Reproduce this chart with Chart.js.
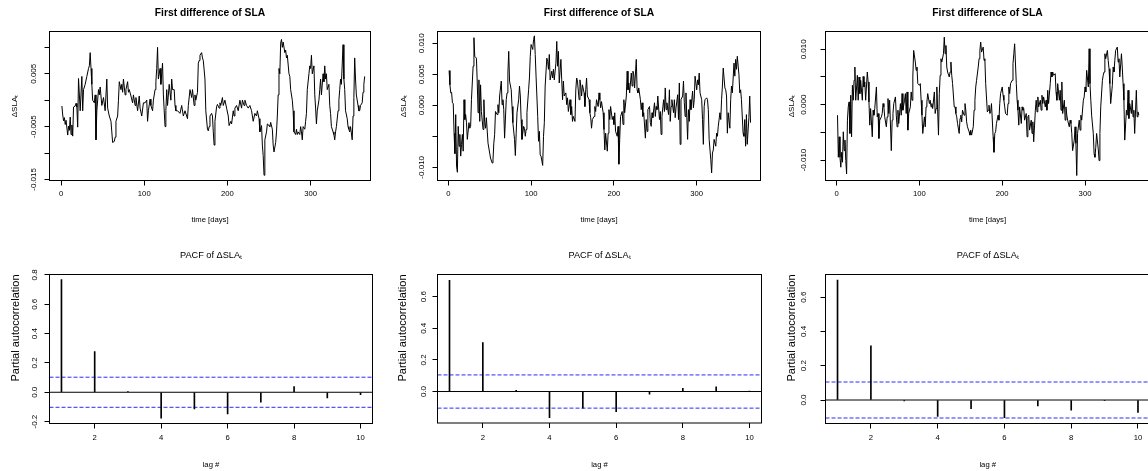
<!DOCTYPE html>
<html><head><meta charset="utf-8"><title>First difference of SLA and PACF</title>
<script src="https://cdn.jsdelivr.net/npm/chart.js@4.4.1/dist/chart.umd.min.js"></script>
<style>
html,body{margin:0;padding:0;background:#fff;overflow:hidden;width:1148px;height:471px;position:relative;}
canvas{position:absolute;display:block;}
</style></head><body>
<canvas id="c1"></canvas><canvas id="c2"></canvas><canvas id="c3"></canvas>
<canvas id="c4"></canvas><canvas id="c5"></canvas><canvas id="c6"></canvas>
<script>
// ---------------- DATA ----------------
const dayTicks = [0, 100, 200, 300];
const lagTicks = [2, 4, 6, 8, 10];
const lags = [1, 2, 3, 4, 5, 6, 7, 8, 9, 10];

const days1 = [
 1,2,3,4,5,6,8,9,10,11,
 12,13,14,15,17,18,19,20,21,23,
 25,26,27,29,31,33,34,35,36,37,
 38,40,41,42,43,45,46,47,49,51,
 53,55,56,58,60,61,62,64,65,66,
 68,69,70,72,73,74,75,77,78,80,
 81,82,84,86,87,89,90,92,94,95,
 97,99,101,103,104,105,107,108,110,111,
 113,114,115,116,117,119,120,121,122,123,
 125,126,127,128,130,132,133,134,136,137,
 138,140,143,145,147,149,151,152,153,155,
 157,158,160,161,162,164,165,166,167,169,
 170,171,173,174,176,177,178,179,181,182,
 183,184,185,187,188,190,191,192,194,195,
 197,199,201,202,204,205,207,208,209,211,
 213,215,217,218,220,221,223,225,227,229,
 231,233,235,236,238,239,241,242,243,244,
 245,247,248,250,251,252,254,255,256,258,
 259,260,261,262,263,264,265,266,267,269,
 270,271,272,274,275,276,278,279,280,282,
 283,284,285,287,288,289,290,291,293,294,
 295,296,298,299,300,301,302,304,305,306,
 307,308,310,311,312,313,315,316,317,318,
 319,320,322,323,324,325,327,328,329,330,
 331,333,334,335,336,337,339,340,341,342,
 344,345,346,347,348,350,351,352,353,354,
 355,357,358,359,360,362,363,364,365];
const sla1 = [
 -1.1e-3,-2.8e-3,-3.9e-3,-3.3e-3,-4.6e-3,-3.8e-3,-6.6e-3,-4.9e-3,-5.7e-3,-3.2e-3,
 -6.5e-3,-4.7e-3,-6.8e-3,-1.3e-3,-1.1e-3,-0.6e-3,-1.3e-3,-5.1e-3,4.1e-3,-2.0e-3,
 4.5e-3,-2.0e-3,2.0e-3,3.0e-3,4.5e-3,6.0e-3,6.5e-3,9.0e-3,6.0e-3,3.0e-3,
 0,-0.5e-3,1.0e-3,-7.5e-3,-2.0e-3,2.0e-3,1.0e-3,2.5e-3,-1.0e-3,0.5e-3,
 -2.0e-3,4.0e-3,-1.5e-3,-3.0e-3,-4.0e-3,-6.0e-3,-8.0e-3,-7.8e-3,-7.0e-3,-4.0e-3,
 -3.0e-3,0,3.5e-3,2.0e-3,3.0e-3,1.5e-3,4.0e-3,1.0e-3,2.0e-3,3.5e-3,
 1.5e-3,2.0e-3,0.8e-3,-0.5e-3,1.0e-3,-1.0e-3,0.5e-3,-2.0e-3,0.8e-3,-1.5e-3,
 -3.0e-3,-0.5e-3,-0.5e-3,0,-4.0e-3,-2.0e-3,0.2e-3,-1.0e-3,-2.0e-3,0,
 2.0e-3,3.5e-3,6.0e-3,10.0e-3,4.0e-3,6.0e-3,3.0e-3,5.0e-3,7.0e-3,1.0e-3,
 -5.0e-3,-2.0e-3,2.0e-3,-1.0e-3,3.0e-3,0,4.0e-3,2.0e-3,2.0e-3,-1.0e-3,
 -2.0e-3,-2.0e-3,-2.5e-3,-1.0e-3,-3.0e-3,-2.0e-3,-3.0e-3,-3.5e-3,-1.0e-3,2.0e-3,
 0.5e-3,2.0e-3,-1.0e-3,1.0e-3,0,1.5e-3,7.0e-3,7.5e-3,8.5e-3,9.0e-3,
 8.0e-3,7.5e-3,4.0e-3,-2.0e-3,-5.5e-3,-5.8e-3,-5.0e-3,-3.0e-3,-2.5e-3,-3.0e-3,
 -6.0e-3,-8.5e-3,-4.0e-3,-1.2e-3,-0.8e-3,-1.5e-3,-0.5e-3,-1.0e-3,0.5e-3,-1.0e-3,
 0,-1.5e-3,-3.0e-3,-4.8e-3,-4.0e-3,-4.5e-3,-2.0e-3,-3.0e-3,-1.5e-3,-1.0e-3,
 -2.0e-3,0,-1.5e-3,0,-1.0e-3,0,-1.0e-3,-1.5e-3,-1.0e-3,-2.0e-3,
 -4.0e-3,-2.5e-3,-3.0e-3,-2.0e-3,-3.5e-3,-6.0e-3,-4.8e-3,-8.5e-3,-10.5e-3,-14.2e-3,
 -7.5e-3,-6.0e-3,-4.5e-3,-4.8e-3,-5.0e-3,-4.2e-3,-5.5e-3,-8.5e-3,-9.8e-3,-8.0e-3,
 -6.0e-3,-3.0e-3,1.0e-3,6.0e-3,5.0e-3,10.8e-3,11.5e-3,10.0e-3,11.0e-3,9.0e-3,
 9.5e-3,8.0e-3,8.5e-3,5.0e-3,4.5e-3,2.0e-3,0,-2.0e-3,-6.0e-3,-6.5e-3,
 -5.5e-3,-6.5e-3,-6.0e-3,-6.5e-3,-5.0e-3,-6.0e-3,-7.5e-3,-5.0e-3,-5.5e-3,-4.0e-3,
 -2.5e-3,2.0e-3,5.0e-3,6.5e-3,6.0e-3,8.5e-3,5.0e-3,6.5e-3,1.0e-3,-1.5e-3,
 -4.5e-3,-2.0e-3,0,2.0e-3,4.0e-3,1.0e-3,5.0e-3,3.5e-3,6.5e-3,4.0e-3,
 5.0e-3,2.0e-3,3.0e-3,-1.0e-3,-2.5e-3,-5.0e-3,-6.0e-3,-6.5e-3,-7.5e-3,-6.0e-3,
 -5.0e-3,-2.0e-3,0,2.0e-3,4.0e-3,3.0e-3,10.5e-3,4.0e-3,2.0e-3,-2.0e-3,
 -3.5e-3,-5.0e-3,-5.5e-3,-6.0e-3,-5.0e-3,-7.5e-3,-3.0e-3,0.5e-3,8.0e-3,4.0e-3,
 1.0e-3,-1.0e-3,-2.0e-3,-2.0e-3,-1.0e-3,-0.5e-3,1.5e-3,3.0e-3,4.5e-3];

const days2 = [
 1,2,3,4,5,6,7,8,9,10,
 11,12,13,14,15,16,17,18,19,20,
 21,22,23,25,26,27,28,30,31,32,
 34,35,36,37,38,39,40,42,43,44,
 45,46,48,50,51,53,54,55,56,57,
 59,60,61,62,64,65,66,67,68,70,
 71,72,73,74,76,77,78,80,81,82,
 83,85,86,87,88,89,91,92,93,94,
 95,97,98,99,100,102,103,104,105,106,
 108,109,110,111,112,114,115,116,117,119,
 120,121,122,123,125,126,127,128,130,131,
 132,133,134,136,137,138,139,140,142,143,
 144,145,147,148,149,150,151,153,154,155,
 156,158,159,160,161,162,164,165,166,167,
 168,170,171,172,173,174,176,177,178,179,
 181,182,183,184,185,187,188,189,190,192,
 193,194,195,196,198,199,200,201,202,204,
 205,206,207,208,210,211,212,213,215,216,
 217,218,219,221,222,223,224,225,227,228,
 229,230,232,233,234,235,236,238,239,240,
 241,243,244,245,246,247,249,250,251,252,
 253,255,256,257,258,260,261,262,263,264,
 266,267,268,269,270,272,273,274,275,277,
 278,279,280,281,283,284,285,286,287,289,
 290,291,292,293,295,296,297,298,300,301,
 302,303,304,306,307,308,309,310,312,313,
 314,315,317,318,319,320,321,323,324,325,
 326,328,329,330,331,332,334,335,336,337,
 338,340,341,342,343,345,346,347,348,349,
 351,352,353,354,356,357,358,359,360,361,
 363,364,365];
const sla2 = [
 5.6e-3,3.3e-3,2.0e-3,2.1e-3,0.4e-3,0.3e-3,-4.5e-3,-7.8e-3,-1.5e-3,-9.8e-3,
 -10.8e-3,-3.4e-3,-6.6e-3,-4.7e-3,-8.2e-3,-6.3e-3,-4.7e-3,-7.4e-3,0.9e-3,-2.3e-3,
 -1.5e-3,-2.8e-3,-5.5e-3,-2.8e-3,-3.7e-3,-3.4e-3,0.9e-3,6.3e-3,10.9e-3,7.9e-3,
 7.6e-3,3.6e-3,-1.2e-3,4.1e-3,-2.6e-3,3.3e-3,-1.0e-3,-3.9e-3,0.9e-3,-2.8e-3,
 -3.7e-3,-2.0e-3,-6.1e-3,-7.7e-3,-8.5e-3,-9.3e-3,-8.8e-3,-6.1e-3,-4.7e-3,-1.0e-3,
 -1.5e-3,0.1e-3,-1.2e-3,1.5e-3,3.9e-3,0.1e-3,0.9e-3,-0.7e-3,-5.3e-3,0.9e-3,
 2.0e-3,5.2e-3,8.7e-3,3.9e-3,2.5e-3,-0.2e-3,-2.8e-3,-5.5e-3,-8.1e-3,-4.5e-3,
 -1.2e-3,0.9e-3,3.1e-3,1.5e-3,-2.3e-3,-5.5e-3,-3.4e-3,-3.7e-3,-5.0e-3,-3.9e-3,
 -1.2e-3,2.5e-3,4.4e-3,7.9e-3,9.8e-3,9.0e-3,10.6e-3,11.2e-3,8.2e-3,4.7e-3,
 -1.8e-3,-5.8e-3,-4.2e-3,-8.0e-3,-8.2e-3,-9.7e-3,-5.0e-3,-2.8e-3,3.1e-3,7.6e-3,
 7.1e-3,5.8e-3,8.2e-3,4.1e-3,5.5e-3,4.4e-3,5.8e-3,4.1e-3,6.8e-3,10.3e-3,
 6.3e-3,8.7e-3,3.6e-3,7.4e-3,4.1e-3,0.9e-3,3.9e-3,1.5e-3,2.0e-3,0.1e-3,
 1.2e-3,-1.0e-3,0.9e-3,-1.5e-3,-0.2e-3,-2.6e-3,-1.8e-3,-2.6e-3,2.5e-3,4.4e-3,
 3.9e-3,0.9e-3,4.1e-3,3.1e-3,1.5e-3,3.3e-3,2.0e-3,-0.2e-3,2.5e-3,4.4e-3,
 1.5e-3,0.9e-3,-1.2e-3,-2.0e-3,-3.7e-3,-2.3e-3,-1.8e-3,-0.2e-3,-1.0e-3,0.9e-3,
 -0.2e-3,2.0e-3,0.9e-3,-0.4e-3,0.6e-3,-1.2e-3,-3.9e-3,-7.2e-3,-4.5e-3,-7.4e-3,
 -4.5e-3,-0.7e-3,-2.3e-3,-0.2e-3,-2.3e-3,-1.8e-3,-3.1e-3,-1.2e-3,-4.2e-3,-5.0e-3,
 -3.4e-3,-9.5e-3,-5.5e-3,-1.8e-3,-1.0e-3,-3.1e-3,0.9e-3,-1.2e-3,1.5e-3,5.5e-3,
 2.5e-3,3.6e-3,2.0e-3,5.2e-3,3.1e-3,5.5e-3,4.9e-3,2.8e-3,7.4e-3,2.5e-3,
 2.0e-3,2.8e-3,0.9e-3,-0.7e-3,0.4e-3,-1.8e-3,-1.2e-3,-5.3e-3,-2.3e-3,-4.2e-3,
 -0.7e-3,-0.2e-3,-2.8e-3,-3.4e-3,-1.2e-3,-2.0e-3,0.4e-3,-1.8e-3,-0.2e-3,-0.7e-3,
 1.5e-3,-2.3e-3,-1.0e-3,-4.7e-3,-1.8e-3,0.9e-3,-1.0e-3,2.8e-3,-0.7e-3,0.4e-3,
 -1.5e-3,2.5e-3,-2.6e-3,-0.2e-3,0.9e-3,-1.2e-3,0.9e-3,-2.0e-3,-0.4e-3,1.7e-3,
 -2.3e-3,3.6e-3,-6.3e-3,0.9e-3,1.5e-3,3.9e-3,0.4e-3,-1.8e-3,2.0e-3,-5.5e-3,
 -0.7e-3,-2.6e-3,0.9e-3,-0.7e-3,2.3e-3,-0.4e-3,0.9e-3,4.7e-3,2.5e-3,4.1e-3,
 3.3e-3,5.2e-3,2.0e-3,0.9e-3,-2.3e-3,-6.3e-3,-0.2e-3,0.9e-3,1.2e-3,0.9e-3,
 -0.7e-3,-5.5e-3,-8.8e-3,-10.9e-3,-7.7e-3,-7.2e-3,-5.5e-3,-6.6e-3,-4.5e-3,-5.0e-3,
 -3.4e-3,-1.2e-3,-2.3e-3,0.9e-3,3.1e-3,6.0e-3,2.8e-3,2.5e-3,1.5e-3,-4.5e-3,
 -1.2e-3,-3.7e-3,0.9e-3,3.1e-3,2.0e-3,6.8e-3,4.7e-3,7.4e-3,5.8e-3,7.9e-3,
 4.9e-3,2.0e-3,2.5e-3,0.9e-3,-4.5e-3,-5.0e-3,-2.3e-3,-6.6e-3,-1.5e-3,-6.3e-3,
 -2.0e-3,1.5e-3,-2.8e-3];

const days3 = [
 1,2,3,4,5,6,7,8,9,10,
 11,12,13,14,15,16,17,18,19,20,
 21,22,23,25,26,27,28,29,31,32,
 33,34,35,37,38,39,40,41,43,44,
 45,46,48,49,50,51,52,54,55,56,
 57,58,60,61,62,63,64,66,67,68,
 69,71,72,73,74,75,77,78,79,80,
 82,83,84,85,86,87,89,90,91,92,
 93,95,96,97,98,100,101,102,103,104,
 106,107,108,109,110,112,113,114,115,116,
 118,119,120,121,123,124,125,126,127,129,
 130,131,132,133,134,136,137,138,139,140,
 142,143,144,145,146,148,149,150,151,152,
 154,155,156,157,158,160,161,162,163,165,
 166,167,168,169,171,172,173,174,175,177,
 178,179,180,182,183,184,185,186,187,189,
 190,191,192,193,195,196,197,198,200,201,
 202,203,204,206,207,208,209,210,212,213,
 214,215,217,218,219,220,221,223,224,225,
 226,227,229,230,231,232,233,235,236,237,
 238,240,241,242,243,244,246,247,248,249,
 250,252,253,254,255,256,258,259,260,261,
 262,264,265,266,267,269,270,271,272,273,
 275,276,277,278,279,281,282,283,284,285,
 287,288,289,290,291,293,294,295,296,298,
 299,300,301,302,304,305,306,307,308,310,
 311,312,313,314,316,317,318,319,321,322,
 323,324,325,327,328,329,330,331,333,334,
 335,336,337,339,340,341,342,344,345,346,
 347,348,350,351,352,353,354,356,357,358,
 359,360,362,363,364,365];
const sla3 = [
 -1.9e-3,-9.5e-3,-5.8e-3,-9.5e-3,-11.3e-3,-8.6e-3,-10.4e-3,-4.9e-3,-8.3e-3,-6.4e-3,
 -10.1e-3,-12.5e-3,-2.8e-3,-0.4e-3,0.5e-3,-5.2e-3,1.7e-3,-5.8e-3,3.5e-3,0.8e-3,
 4.4e-3,6.8e-3,0.8e-3,5.3e-3,0.8e-3,5.0e-3,2.0e-3,4.4e-3,0.8e-3,5.1e-3,
 3.2e-3,4.1e-3,0.8e-3,5.9e-3,4.1e-3,0.5e-3,-3.7e-3,-0.7e-3,-5.8e-3,-1.0e-3,
 -1.9e-3,-0.7e-3,3.2e-3,-2.2e-3,-1.6e-3,-6.1e-3,-2.8e-3,-2.2e-3,-1.6e-3,0.2e-3,
 -0.4e-3,-2.2e-3,-4.0e-3,-2.2e-3,1.1e-3,-1.6e-3,0.8e-3,-8.3e-3,-2.8e-3,-1.6e-3,
 0.2e-3,1.4e-3,-1.9e-3,-4.0e-3,-1.0e-3,-3.4e-3,0.2e-3,-1.9e-3,2.0e-3,-1.0e-3,
 0.8e-3,2.0e-3,-1.6e-3,2.3e-3,-4.6e-3,-1.6e-3,-0.4e-3,2.3e-3,0.8e-3,5.0e-3,
 9.8e-3,7.7e-3,6.2e-3,6.8e-3,3.8e-3,3.5e-3,3.8e-3,0.8e-3,-1.9e-3,-5.2e-3,
 -2.2e-3,-4.0e-3,-0.4e-3,0.5e-3,2.0e-3,0.2e-3,0.8e-3,-0.4e-3,0.2e-3,-0.7e-3,
 2.3e-3,-1.6e-3,-0.7e-3,3.2e-3,-5.5e-3,2.0e-3,5.3e-3,8.3e-3,7.7e-3,9.2e-3,
 12.2e-3,9.2e-3,10.7e-3,6.8e-3,5.9e-3,5.0e-3,5.9e-3,7.7e-3,5.3e-3,3.8e-3,
 -0.4e-3,-0.4e-3,-1.6e-3,-2.2e-3,-3.4e-3,-5.2e-3,-2.5e-3,-1.9e-3,-3.1e-3,-1.0e-3,
 -1.9e-3,0.2e-3,-1.0e-3,-3.1e-3,-4.0e-3,-4.9e-3,-5.5e-3,-4.6e-3,-5.5e-3,-4.0e-3,
 -1.0e-3,0.8e-3,3.2e-3,4.4e-3,6.8e-3,8.3e-3,9.8e-3,11.3e-3,9.5e-3,10.4e-3,
 8.0e-3,8.3e-3,3.8e-3,-1.3e-3,-1.0e-3,-0.1e-3,-1.6e-3,-1.3e-3,0.2e-3,-5.8e-3,
 -8.6e-3,-5.2e-3,-4.9e-3,-3.4e-3,-1.9e-3,-2.8e-3,0.2e-3,2.0e-3,3.2e-3,1.7e-3,
 0.8e-3,-0.4e-3,-1.6e-3,-1.9e-3,0.2e-3,3.2e-3,2.0e-3,3.8e-3,4.4e-3,7.4e-3,
 9.2e-3,11.0e-3,3.8e-3,0.8e-3,-1.0e-3,-3.7e-3,-0.4e-3,-3.4e-3,-0.4e-3,-1.0e-3,
 -0.7e-3,-2.8e-3,-1.6e-3,-5.8e-3,-2.2e-3,-1.9e-3,-4.6e-3,-2.8e-3,-5.2e-3,-3.1e-3,
 -6.7e-3,-1.0e-3,0.8e-3,-1.3e-3,1.4e-3,-0.4e-3,0.8e-3,-1.0e-3,1.7e-3,0.2e-3,
 1.4e-3,-0.4e-3,0.8e-3,-1.0e-3,2.6e-3,0.2e-3,3.8e-3,5.9e-3,5.0e-3,5.9e-3,
 5.3e-3,5.6e-3,2.3e-3,0.8e-3,3.8e-3,0.8e-3,2.6e-3,-1.0e-3,4.1e-3,-1.6e-3,
 0.8e-3,-2.8e-3,-0.4e-3,-1.9e-3,-2.8e-3,-4.0e-3,-2.8e-3,-3.4e-3,-5.2e-3,-8.3e-3,
 -6.4e-3,-4.0e-3,-7.0e-3,-12.8e-3,-5.2e-3,-2.8e-3,-4.6e-3,-1.9e-3,-2.8e-3,0.8e-3,
 1.4e-3,3.2e-3,2.3e-3,6.2e-3,3.2e-3,10.1e-3,3.8e-3,0.8e-3,-1.9e-3,-5.2e-3,
 -8.9e-3,-9.5e-3,-7.7e-3,-5.2e-3,-8.0e-3,-10.1e-3,-5.2e-3,-0.4e-3,4.4e-3,5.3e-3,
 5.9e-3,9.2e-3,8.3e-3,9.8e-3,8.0e-3,6.5e-3,3.8e-3,0.2e-3,3.5e-3,6.8e-3,
 5.9e-3,8.0e-3,9.8e-3,10.4e-3,7.7e-3,8.3e-3,5.0e-3,9.2e-3,6.8e-3,3.8e-3,
 0.8e-3,-6.4e-3,-1.0e-3,-1.9e-3,2.6e-3,-2.5e-3,0.2e-3,-1.6e-3,0.8e-3,-2.2e-3,
 -1.0e-3,-5.2e-3,2.6e-3,-2.2e-3,-1.3e-3,-1.9e-3];

const pacf1 = [0.768, 0.277, 0.004, -0.177, -0.113, -0.147, -0.068, 0.039, -0.038, -0.016];
const pacf2 = [0.703, 0.310, 0.008, -0.165, -0.105, -0.128, -0.017, 0.021, 0.029, 0.002];
const pacf3 = [0.700, 0.316, -0.005, -0.095, -0.050, -0.103, -0.035, -0.059, -0.004, -0.072];
const ciLimit = [0.1026, 0.105, 0.105];

const slaYTicks1 = [-0.015, -0.010, -0.005, 0, 0.005, 0.010];
const slaYLabels1 = ['-0.015', '', '-0.005', '', '0.005', ''];
const slaYTicks2 = [-0.010, -0.005, 0, 0.005, 0.010];
const slaYLabels2 = ['-0.010', '', '0.000', '0.005', '0.010'];
const slaYTicks3 = [-0.010, -0.005, 0, 0.005, 0.010];
const slaYLabels3 = ['-0.010', '', '0.000', '', '0.010'];
const pacfYTicks1 = [-0.2, 0, 0.2, 0.4, 0.6, 0.8];
const pacfYLabels1 = ['-0.2', '0.0', '0.2', '0.4', '0.6', '0.8'];
const pacfYTicks23 = [0, 0.2, 0.4, 0.6];
const pacfYLabels23 = ['0.0', '0.2', '0.4', '0.6'];

// ---------------- STYLE / LAYOUT ----------------
function fontAvailable(name) {
  const c = document.createElement('canvas').getContext('2d');
  const s = 'First difference of SLA 0123456789';
  c.font = '40px monospace'; const a = c.measureText(s).width;
  c.font = '40px "' + name + '", monospace'; const b = c.measureText(s).width;
  return Math.abs(a - b) > 0.5;
}
const NARROW = fontAvailable('Liberation Sans Narrow');
const HFAM = NARROW ? '"Liberation Sans Narrow", "Liberation Sans", Arial, sans-serif' : '"Liberation Sans", Arial, sans-serif';
const VFAM = '"Liberation Sans", Arial, sans-serif';
const K = NARROW ? 1 / 0.82 : 1;
const TL = 5;

function textWidth(font, txt) {
  const c = document.createElement('canvas').getContext('2d');
  c.font = font; return c.measureText(txt).width;
}

const boxPlugin = {
  id: 'rbox',
  afterDatasetsDraw(chart) {
    const {ctx, chartArea: a} = chart;
    ctx.save();
    ctx.strokeStyle = '#000'; ctx.lineWidth = 1;
    ctx.strokeRect(a.left, a.top, a.right - a.left, a.bottom - a.top);
    ctx.restore();
  }
};

function panel(p) {
  const cv = document.getElementById(p.id);
  cv.width = p.w; cv.height = p.h;
  cv.style.left = p.left + 'px'; cv.style.top = p.top + 'px';
  cv.style.width = p.w + 'px'; cv.style.height = p.h + 'px';
  const a = p.area;
  const tlh = p.titleSize * 1.2, xlh = p.xTickSize * 1.2, xtlh = p.xTitleSize * 1.2, ytlh = p.yTitleSize * 1.2;
  const padTop = p.titleY - tlh / 2;
  const widest = Math.max(...p.yLabels.map(s => textWidth(p.yTickSize + 'px ' + VFAM, s)));
  new Chart(cv, {
    type: 'line',
    data: {datasets: p.datasets},
    options: {
      responsive: false, animation: false, events: [],
      layout: {padding: {left: 0, right: p.w - a.r, top: padTop, bottom: p.h - (a.b + p.Hx)}},
      plugins: {
        legend: {display: false}, tooltip: {enabled: false},
        title: {display: true, text: p.title, fullSize: false, color: '#000',
          font: {family: HFAM, size: p.titleSize, weight: p.titleWeight, lineHeight: 1.2},
          padding: {top: 0, bottom: a.t - padTop - tlh}}
      },
      scales: {
        x: {
          type: 'linear', position: 'bottom', min: p.xMin, max: p.xMax, offset: false,
          afterBuildTicks: s => { s.ticks = p.xTicks.map(v => ({value: v})); },
          afterFit: s => { s.height = p.Hx; },
          grid: {display: true, drawOnChartArea: false, drawTicks: true, tickLength: TL, color: '#000', lineWidth: 1, offset: false},
          border: {display: false},
          ticks: {autoSkip: false, maxRotation: 0, minRotation: 0, color: '#000',
            padding: p.xTickY - a.b - TL - xlh / 2,
            font: {family: HFAM, size: p.xTickSize, lineHeight: 1.2},
            callback: v => String(v)},
          title: {display: true, text: p.xTitle, color: '#000',
            font: {family: HFAM, size: p.xTitleSize, lineHeight: 1.2},
            padding: {top: 0, bottom: (a.b + p.Hx) - p.xTitleY - xtlh / 2}}
        },
        y: {
          type: 'linear', position: 'left', min: p.yMin, max: p.yMax,
          afterBuildTicks: s => { s.ticks = p.yTicks.map(v => ({value: v})); },
          afterFit: s => { s.width = a.l; },
          grid: {display: true, drawOnChartArea: false, drawTicks: true, tickLength: TL, color: '#000', lineWidth: 1},
          border: {display: false},
          ticks: {autoSkip: false, minRotation: 90, maxRotation: 90, crossAlign: 'center', color: '#000',
            padding: a.l - TL - widest / 2 - p.yTickX,
            font: {family: VFAM, size: p.yTickSize, lineHeight: 1.2},
            callback: (v, i) => p.yLabels[i]},
          title: {display: true, text: p.yTitle, color: '#000', align: p.yTitleAlign,
            font: {family: VFAM, size: p.yTitleSize, lineHeight: 1.2},
            padding: {top: p.yTitleX - ytlh / 2, bottom: 0}}
        }
      }
    },
    plugins: [boxPlugin]
  });
}

function slaSet(days, vals) {
  return [{type: 'line', data: days.map((d, i) => ({x: d, y: vals[i]})), borderColor: '#000', borderWidth: 1,
    pointRadius: 0, tension: 0, fill: false}];
}
const LAG_MIN = 0.64, LAG_MAX = 10.36;
function pacfSet(vals, ci) {
  return [
    {type: 'bar', data: lags.map((l, i) => ({x: l, y: vals[i]})), backgroundColor: '#000', barThickness: 1, borderWidth: 0},
    {type: 'line', data: [{x: LAG_MIN, y: 0}, {x: LAG_MAX, y: 0}], borderColor: '#000', borderWidth: 1, pointRadius: 0},
    {type: 'line', data: [{x: LAG_MIN, y: ci}, {x: LAG_MAX, y: ci}], borderColor: '#2b2bff', borderWidth: 1, borderDash: [4, 2], pointRadius: 0},
    {type: 'line', data: [{x: LAG_MIN, y: -ci}, {x: LAG_MAX, y: -ci}], borderColor: '#2b2bff', borderWidth: 1, borderDash: [4, 2], pointRadius: 0}
  ];
}

const topCommon = {top: 0, h: 235, Hx: 50, titleY: 13.5, xTickY: 194.3, xTitleY: 220,
  title: 'First difference of SLA', titleSize: 10.3 * K, titleWeight: 'bold',
  xTickSize: 7.7 * K, xTitleSize: 7.7 * K, yTickSize: 8, yTitleSize: 8, yTitleAlign: 'center',
  xTitle: 'time [days]', yTitle: 'ΔSLAₜ', xTicks: dayTicks};
const botCommon = {top: 235, h: 236, Hx: 47, titleY: 20, xTickY: 203.3, xTitleY: 230,
  title: 'PACF of ΔSLAₜ', titleSize: 9.2 * K, titleWeight: 'normal',
  xTickSize: 7.7 * K, xTitleSize: 7.7 * K, yTickSize: 8, yTitleSize: 11, yTitleAlign: 'end',
  xTitle: 'lag #', yTitle: 'Partial autocorrelation', xTicks: lagTicks, xMin: LAG_MIN, xMax: LAG_MAX};

panel(Object.assign({}, topCommon, {id: 'c1', left: 0, w: 388, area: {l: 49.5, r: 370.5, t: 31.5, b: 180.5},
  yTickX: 34, yTitleX: 15, xMin: -13.9, xMax: 372, yMin: -0.0152, yMax: 0.0130,
  yTicks: slaYTicks1, yLabels: slaYLabels1, datasets: slaSet(days1, sla1)}));
panel(Object.assign({}, topCommon, {id: 'c2', left: 388, w: 388, area: {l: 49.5, r: 372.5, t: 31.5, b: 180.5},
  yTickX: 33.7, yTitleX: 16, xMin: -13.0, xMax: 377, yMin: -0.01213, yMax: 0.0119,
  yTicks: slaYTicks2, yLabels: slaYLabels2, datasets: slaSet(days2, sla2)}));
panel(Object.assign({}, topCommon, {id: 'c3', left: 776, w: 384, area: {l: 49.5, r: 373.5, t: 31.5, b: 180.5},
  yTickX: 27.3, yTitleX: 15.7, xMin: -13.5, xMax: 377.9, yMin: -0.0137, yMax: 0.01322,
  yTicks: slaYTicks3, yLabels: slaYLabels3, datasets: slaSet(days3, sla3)}));
panel(Object.assign({}, botCommon, {id: 'c4', left: 0, w: 388, area: {l: 49.5, r: 372.5, t: 39.5, b: 188.5},
  yTickX: 35, yTitleX: 16, yMin: -0.213, yMax: 0.803,
  yTicks: pacfYTicks1, yLabels: pacfYLabels1, datasets: pacfSet(pacf1, ciLimit[0])}));
panel(Object.assign({}, botCommon, {id: 'c5', left: 388, w: 388, area: {l: 49.5, r: 373.5, t: 39.5, b: 188},
  yTickX: 36, yTitleX: 15.3, yMin: -0.199, yMax: 0.740,
  yTicks: pacfYTicks23, yLabels: pacfYLabels23, datasets: pacfSet(pacf2, ciLimit[1])}));
panel(Object.assign({}, botCommon, {id: 'c6', left: 776, w: 384, area: {l: 49.5, r: 374, t: 39.5, b: 188.5},
  yTickX: 27.3, yTitleX: 15.7, yMin: -0.137, yMax: 0.732,
  yTicks: pacfYTicks23, yLabels: pacfYLabels23, datasets: pacfSet(pacf3, ciLimit[2])}));
</script>
</body></html>
